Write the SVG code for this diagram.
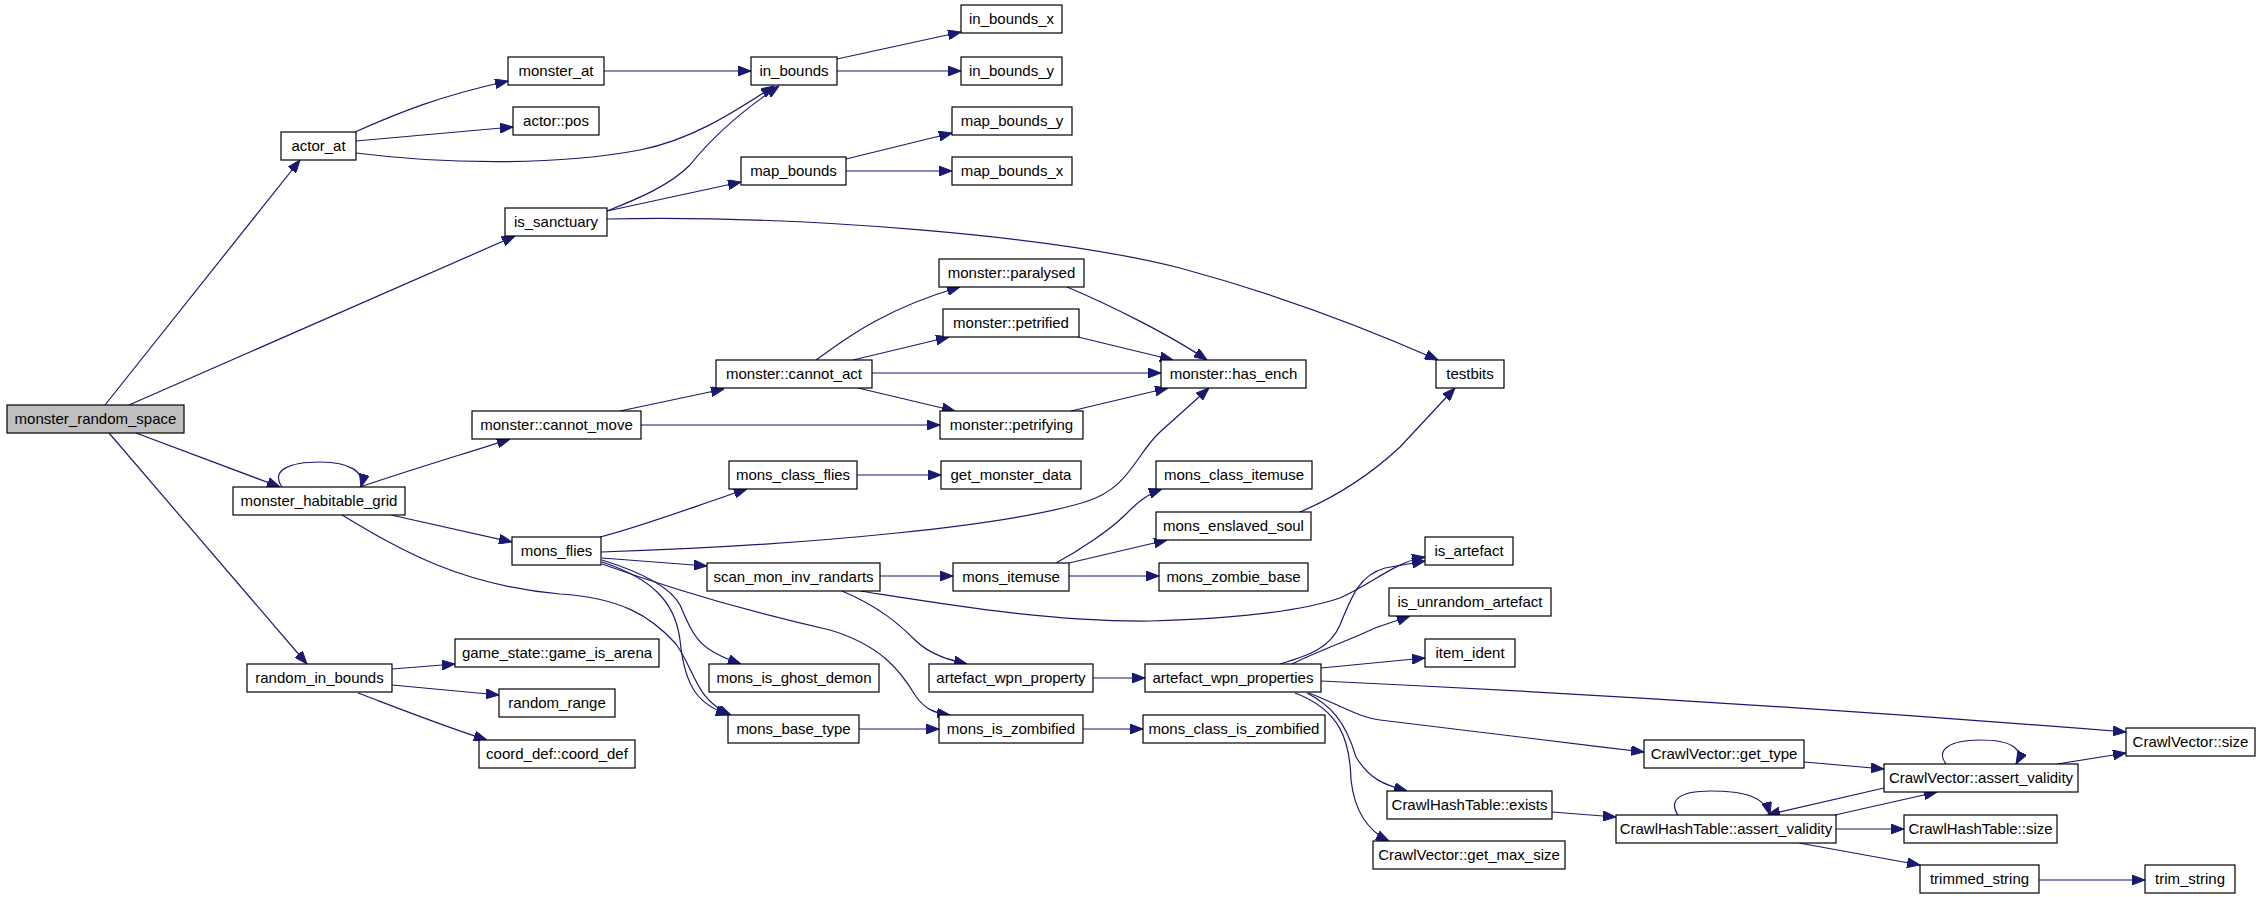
<svg xmlns="http://www.w3.org/2000/svg" width="2264" height="897" viewBox="0 0 2264 897">
<style>
.n rect{fill:#fff;stroke:#000;stroke-width:1.2}
.n text{font-family:"Liberation Sans",Arial,sans-serif;font-size:15px;fill:#000;text-anchor:middle}
#n_mrs rect{fill:#bfbfbf}
.e path{fill:none;stroke:#191970;stroke-width:1.2;marker-end:url(#ah)}
</style>
<defs>
<marker id="ah" viewBox="0 0 13 10" refX="13" refY="5" markerWidth="13" markerHeight="10" markerUnits="userSpaceOnUse" orient="auto">
<path d="M0,0 L13,5 L0,10 z" fill="#191970" stroke="#191970" stroke-width="1"/>
</marker>
</defs>
<rect width="2264" height="897" fill="#fff"/>
<g class="e" id="edges">
<path d="M105,405 L300,160"/>
<path d="M129,405 L515,236"/>
<path d="M136,433 L280,487"/>
<path d="M109,433 L307,664"/>
<path d="M355,132 C400,112 440,96 508,81"/>
<path d="M356,141 L513,127"/>
<path d="M356,153 C450,165 560,165 640,150 C690,140 730,115 774,86"/>
<path d="M604,71 L751,71"/>
<path d="M837,59 L961,32"/>
<path d="M837,71 L961,71"/>
<path d="M607,211 C640,198 670,185 690,165 C710,140 740,112 779,86"/>
<path d="M607,211 L741,182"/>
<path d="M607,219 C800,215 1050,235 1180,268 C1280,295 1370,330 1438,360"/>
<path d="M846,159 L952,133"/>
<path d="M846,171 L952,171"/>
<path d="M282,487 C270,470 290,462 320,462 C350,462 365,472 361,487"/>
<path d="M360,487 C410,470 470,452 510,439"/>
<path d="M391,515 L512,542"/>
<path d="M342,515 C400,550 460,585 560,594 C620,598 650,615 676,644 C695,670 695,700 731,715"/>
<path d="M620,411 L724,389"/>
<path d="M641,425 L940,425"/>
<path d="M816,360 C840,343 880,310 960,287"/>
<path d="M853,360 L949,337"/>
<path d="M872,373 L1161,373"/>
<path d="M858,388 L955,411"/>
<path d="M1067,287 C1110,305 1170,335 1207,360"/>
<path d="M1078,337 L1173,360"/>
<path d="M1071,411 L1168,388"/>
<path d="M600,537 C640,527 690,508 747,489"/>
<path d="M601,552 C820,545 1010,525 1085,502 C1130,488 1135,455 1160,432 L1209,388"/>
<path d="M602,558 L707,566"/>
<path d="M602,560 C650,575 672,590 680,605 C695,640 700,650 741,664"/>
<path d="M602,562 C650,578 675,600 680,640 C685,690 700,705 729,715"/>
<path d="M602,564 C680,592 750,612 830,630 C880,645 900,670 915,695 C925,710 935,713 950,715"/>
<path d="M857,475 L941,475"/>
<path d="M880,576 L953,576"/>
<path d="M860,591 C950,605 1050,622 1150,621 C1260,618 1310,608 1340,598 C1375,582 1395,562 1425,557"/>
<path d="M842,591 C880,607 900,625 915,640 C930,655 950,660 967,664"/>
<path d="M1056,563 C1080,550 1110,530 1125,515 C1135,505 1145,495 1162,489"/>
<path d="M1069,563 L1167,540"/>
<path d="M1069,576 L1159,576"/>
<path d="M1300,512 C1340,495 1370,475 1400,447 L1455,388"/>
<path d="M1093,678 L1145,678"/>
<path d="M1280,664 C1310,655 1330,648 1340,625 C1352,595 1360,575 1385,568 L1425,561"/>
<path d="M1292,664 C1320,650 1350,640 1375,628 L1410,616"/>
<path d="M1321,668 L1425,658"/>
<path d="M1321,681 C1600,694 1900,714 2126,732"/>
<path d="M1309,693 C1340,705 1360,718 1380,720 C1480,732 1560,742 1644,752"/>
<path d="M1307,693 C1330,705 1345,720 1356,757 C1370,780 1385,785 1407,791"/>
<path d="M1295,693 C1340,710 1350,740 1351,780 C1355,815 1370,832 1389,841"/>
<path d="M859,729 L939,729"/>
<path d="M1083,729 L1143,729"/>
<path d="M392,669 L455,664"/>
<path d="M392,685 L499,695"/>
<path d="M358,693 C390,705 440,725 487,740"/>
<path d="M1804,762 L1884,769"/>
<path d="M1946,764 C1935,750 1950,740 1980,740 C2010,740 2025,748 2016,764"/>
<path d="M2057,764 L2126,753"/>
<path d="M1884,788 L1767,815"/>
<path d="M1552,812 L1616,817"/>
<path d="M1678,815 C1668,800 1680,791 1710,791 C1745,791 1765,797 1770,815"/>
<path d="M1835,815 L1937,792"/>
<path d="M1836,829 L1904,829"/>
<path d="M1799,843 L1920,865"/>
<path d="M2039,880 L2145,880"/>
</g>
<g class="n" id="n_mrs"><rect x="7" y="405" width="177" height="28"/><text x="95.5" y="424">monster_random_space</text></g>
<g class="n" id="n_actor_at"><rect x="281" y="132" width="75" height="28"/><text x="318.5" y="151">actor_at</text></g>
<g class="n" id="n_is_sanctuary"><rect x="505" y="208" width="102" height="28"/><text x="556" y="227">is_sanctuary</text></g>
<g class="n" id="n_mhg"><rect x="233" y="487" width="172" height="28"/><text x="319" y="506">monster_habitable_grid</text></g>
<g class="n" id="n_rib"><rect x="247" y="664" width="145" height="28"/><text x="319.5" y="683">random_in_bounds</text></g>
<g class="n" id="n_monster_at"><rect x="508" y="57" width="96" height="28"/><text x="556" y="76">monster_at</text></g>
<g class="n" id="n_actor_pos"><rect x="513" y="107" width="86" height="28"/><text x="556" y="126">actor::pos</text></g>
<g class="n" id="n_in_bounds"><rect x="751" y="57" width="86" height="28"/><text x="794" y="76">in_bounds</text></g>
<g class="n" id="n_in_bounds_x"><rect x="961" y="5" width="101" height="28"/><text x="1011.5" y="24">in_bounds_x</text></g>
<g class="n" id="n_in_bounds_y"><rect x="961" y="57" width="101" height="28"/><text x="1011.5" y="76">in_bounds_y</text></g>
<g class="n" id="n_map_bounds"><rect x="741" y="157" width="105" height="28"/><text x="793.5" y="176">map_bounds</text></g>
<g class="n" id="n_map_bounds_y"><rect x="952" y="107" width="120" height="28"/><text x="1012" y="126">map_bounds_y</text></g>
<g class="n" id="n_map_bounds_x"><rect x="952" y="157" width="120" height="28"/><text x="1012" y="176">map_bounds_x</text></g>
<g class="n" id="n_testbits"><rect x="1436" y="360" width="68" height="28"/><text x="1470" y="379">testbits</text></g>
<g class="n" id="n_cannot_move"><rect x="472" y="411" width="169" height="28"/><text x="556.5" y="430">monster::cannot_move</text></g>
<g class="n" id="n_cannot_act"><rect x="716" y="360" width="156" height="28"/><text x="794" y="379">monster::cannot_act</text></g>
<g class="n" id="n_paralysed"><rect x="939" y="259" width="145" height="28"/><text x="1011.5" y="278">monster::paralysed</text></g>
<g class="n" id="n_petrified"><rect x="943" y="309" width="136" height="28"/><text x="1011" y="328">monster::petrified</text></g>
<g class="n" id="n_petrifying"><rect x="940" y="411" width="143" height="28"/><text x="1011.5" y="430">monster::petrifying</text></g>
<g class="n" id="n_has_ench"><rect x="1161" y="360" width="145" height="28"/><text x="1233.5" y="379">monster::has_ench</text></g>
<g class="n" id="n_mons_flies"><rect x="512" y="537" width="89" height="28"/><text x="556.5" y="556">mons_flies</text></g>
<g class="n" id="n_mons_class_flies"><rect x="729" y="461" width="128" height="28"/><text x="793" y="480">mons_class_flies</text></g>
<g class="n" id="n_get_monster_data"><rect x="941" y="461" width="140" height="28"/><text x="1011" y="480">get_monster_data</text></g>
<g class="n" id="n_scan"><rect x="707" y="563" width="173" height="28"/><text x="793.5" y="582">scan_mon_inv_randarts</text></g>
<g class="n" id="n_mons_itemuse"><rect x="953" y="563" width="116" height="28"/><text x="1011" y="582">mons_itemuse</text></g>
<g class="n" id="n_ghost"><rect x="709" y="664" width="170" height="28"/><text x="794" y="683">mons_is_ghost_demon</text></g>
<g class="n" id="n_awp"><rect x="929" y="664" width="164" height="28"/><text x="1011" y="683">artefact_wpn_property</text></g>
<g class="n" id="n_base_type"><rect x="728" y="715" width="131" height="28"/><text x="793.5" y="734">mons_base_type</text></g>
<g class="n" id="n_is_zombified"><rect x="939" y="715" width="144" height="28"/><text x="1011" y="734">mons_is_zombified</text></g>
<g class="n" id="n_arena"><rect x="455" y="639" width="204" height="28"/><text x="557" y="658">game_state::game_is_arena</text></g>
<g class="n" id="n_random_range"><rect x="499" y="689" width="116" height="28"/><text x="557" y="708">random_range</text></g>
<g class="n" id="n_coord_def"><rect x="479" y="740" width="156" height="28"/><text x="557" y="759">coord_def::coord_def</text></g>
<g class="n" id="n_class_itemuse"><rect x="1156" y="461" width="156" height="28"/><text x="1234" y="480">mons_class_itemuse</text></g>
<g class="n" id="n_enslaved"><rect x="1156" y="512" width="155" height="28"/><text x="1233.5" y="531">mons_enslaved_soul</text></g>
<g class="n" id="n_zombie_base"><rect x="1159" y="563" width="149" height="28"/><text x="1233.5" y="582">mons_zombie_base</text></g>
<g class="n" id="n_is_artefact"><rect x="1425" y="537" width="88" height="28"/><text x="1469" y="556">is_artefact</text></g>
<g class="n" id="n_is_unrandom"><rect x="1389" y="588" width="162" height="28"/><text x="1470" y="607">is_unrandom_artefact</text></g>
<g class="n" id="n_item_ident"><rect x="1425" y="639" width="90" height="28"/><text x="1470" y="658">item_ident</text></g>
<g class="n" id="n_awps"><rect x="1145" y="664" width="176" height="28"/><text x="1233" y="683">artefact_wpn_properties</text></g>
<g class="n" id="n_class_is_zombified"><rect x="1143" y="715" width="182" height="28"/><text x="1234" y="734">mons_class_is_zombified</text></g>
<g class="n" id="n_get_type"><rect x="1644" y="740" width="160" height="28"/><text x="1724" y="759">CrawlVector::get_type</text></g>
<g class="n" id="n_cht_exists"><rect x="1387" y="791" width="165" height="28"/><text x="1469.5" y="810">CrawlHashTable::exists</text></g>
<g class="n" id="n_chtav"><rect x="1616" y="815" width="220" height="28"/><text x="1726" y="834">CrawlHashTable::assert_validity</text></g>
<g class="n" id="n_get_max_size"><rect x="1373" y="841" width="192" height="28"/><text x="1469" y="860">CrawlVector::get_max_size</text></g>
<g class="n" id="n_cv_size"><rect x="2126" y="728" width="129" height="28"/><text x="2190.5" y="747">CrawlVector::size</text></g>
<g class="n" id="n_cvav"><rect x="1884" y="764" width="194" height="28"/><text x="1981" y="783">CrawlVector::assert_validity</text></g>
<g class="n" id="n_cht_size"><rect x="1904" y="815" width="153" height="28"/><text x="1980.5" y="834">CrawlHashTable::size</text></g>
<g class="n" id="n_trimmed"><rect x="1920" y="865" width="119" height="28"/><text x="1979.5" y="884">trimmed_string</text></g>
<g class="n" id="n_trim"><rect x="2145" y="865" width="90" height="28"/><text x="2190" y="884">trim_string</text></g>
</svg>
